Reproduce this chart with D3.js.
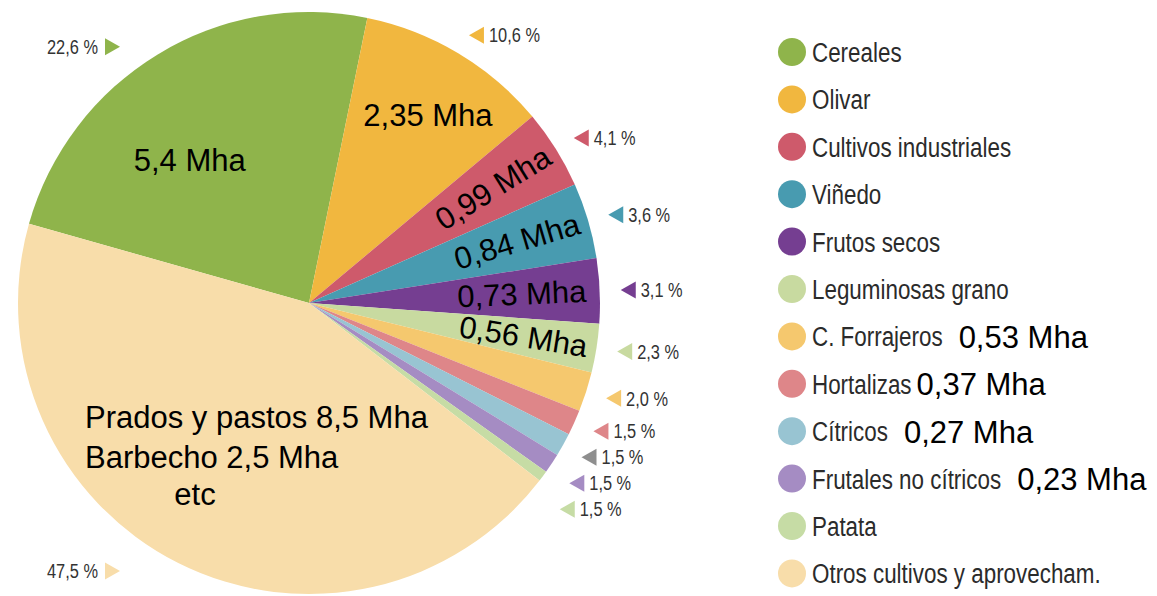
<!DOCTYPE html>
<html>
<head>
<meta charset="utf-8">
<script src="https://cdn.jsdelivr.net/npm/d3@7"></script>
<style>
  body { margin: 0; background: #fff; }
  .pct { font-family: 'Liberation Sans', Arial, sans-serif; font-size: 21px; fill: #333; }
  .legend-label { font-family: 'Liberation Sans', Arial, sans-serif; font-size: 28px; fill: #2b2b2b; }
  .note { font-family: 'Liberation Sans', Arial, sans-serif; font-size: 31px; fill: #000; }
</style>
</head>
<body>
<div id="chart"></div>
<script>
// Crop categories, clockwise from the top-left
const categories = [
  'Cereales', 'Olivar', 'Cultivos industriales', 'Viñedo', 'Frutos secos',
  'Leguminosas grano', 'C. Forrajeros', 'Hortalizas', 'Cítricos',
  'Frutales no cítricos', 'Patata', 'Otros cultivos y aprovecham.'
];
// Share of the pie as drawn (%)
const sliceShare = [23.8, 10.7, 4.4, 4.2, 3.6, 2.7, 2.2, 1.4, 1.3, 1.1, 0.6, 43.9];
// Printed percentage labels
const pctLabels = ['22,6 %', '10,6 %', '4,1 %', '3,6 %', '3,1 %', '2,3 %', '2,0 %', '1,5 %', '1,5 %', '1,5 %', '1,5 %', '47,5 %'];
// Hand-added surfaces (million ha)
const mhaLabels = ['5,4 Mha', '2,35 Mha', '0,99 Mha', '0,84 Mha', '0,73 Mha', '0,56 Mha', '0,53 Mha', '0,37 Mha', '0,27 Mha', '0,23 Mha', '', ''];
const otrosNote = ['Prados y pastos 8,5 Mha', 'Barbecho 2,5 Mha', 'etc'];

const palette = ['#8fb44b', '#f1b73f', '#ce5a6b', '#489bb0', '#753e91', '#c8daa0',
  '#f5c86e', '#de8689', '#98c4d2', '#a58cc3', '#c6dca5', '#f8ddaa'];
// marker triangle next to Cítricos is grey in the original
const markerColors = palette.map((c, i) => i === 8 ? '#8e8e8e' : c);

const width = 1157, height = 596;
const cx = 309, cy = 303, radius = 291;
const narrow = 0.78;       // squeeze to mimic the condensed face of the original
const legendNarrow = 0.8;
const rad = deg => deg * Math.PI / 180;

const svg = d3.select('#chart').append('svg')
  .attr('width', width)
  .attr('height', height);

const start = rad(-74.2);
const pie = d3.pie().sort(null).value(d => d)
  .startAngle(start).endAngle(start + 2 * Math.PI);
const arcs = pie(sliceShare);
const arc = d3.arc().innerRadius(0).outerRadius(radius);

const g = svg.append('g').attr('transform', `translate(${cx},${cy})`);

g.selectAll('path.slice')
  .data(arcs)
  .enter().append('path')
  .attr('class', 'slice')
  .attr('d', arc)
  .attr('fill', (d, i) => palette[i]);

// Percentage labels with little triangles
const mid = d => (d.startAngle + d.endAngle) / 2;
let prevY = -Infinity;
arcs.forEach((d, i) => {
  const a = mid(d);
  const left = (i === 0 || i === arcs.length - 1);
  if (left) {
    const y = cy - 300 * Math.cos(a);
    const tx = 105;
    svg.append('path')
      .attr('d', `M${tx},${y - 8.5}L${tx + 15},${y}L${tx},${y + 8.5}Z`)
      .attr('fill', markerColors[i]);
    svg.append('text').attr('class', 'pct')
      .attr('transform', `translate(${tx - 7},${y}) scale(${narrow},1)`)
      .attr('text-anchor', 'end')
      .attr('dominant-baseline', 'central')
      .text(pctLabels[i]);
  } else {
    let y = cy - 312 * Math.cos(a);
    if (y < prevY + 26) y = prevY + 26;
    prevY = y;
    const tx = cx + 312 * Math.sin(a);
    svg.append('path')
      .attr('d', `M${tx + 15},${y - 8.5}L${tx},${y}L${tx + 15},${y + 8.5}Z`)
      .attr('fill', markerColors[i]);
    svg.append('text').attr('class', 'pct')
      .attr('transform', `translate(${tx + 20},${y}) scale(${narrow},1)`)
      .attr('dominant-baseline', 'central')
      .text(pctLabels[i]);
  }
});

// Mha notes inside the larger slices
const inSlice = {
  0: { f: 0.4, r: 186, rotate: false },
  1: { f: 0.54, r: 222, rotate: false },
  2: { f: 0.5, r: 217, rotate: true },
  3: { f: 0.5, r: 217, rotate: true },
  4: { f: 0.5, r: 213, rotate: true },
  5: { f: 0.5, r: 217, rotate: true }
};
Object.keys(inSlice).forEach(k => {
  const i = +k, o = inSlice[k], d = arcs[i];
  const a = d.startAngle + o.f * (d.endAngle - d.startAngle);
  const x = o.r * Math.sin(a), y = -o.r * Math.cos(a);
  const rot = o.rotate ? a * 180 / Math.PI - 90 : 0;
  g.append('text').attr('class', 'note')
    .attr('transform', `translate(${x},${y}) rotate(${rot})`)
    .attr('text-anchor', 'middle')
    .attr('dominant-baseline', 'central')
    .text(mhaLabels[i]);
});

// Note on the big "Otros" slice
const noteG = g.append('g').attr('transform', 'translate(-224,125)');
noteG.selectAll('text')
  .data(otrosNote)
  .enter().append('text')
  .attr('class', 'note')
  .attr('x', (d, i) => i === 2 ? 110 : 0)
  .attr('y', (d, i) => i === 2 ? 77 : i * 40)
  .attr('text-anchor', (d, i) => i === 2 ? 'middle' : 'start')
  .text(d => d);

// Legend
const legendX = 792, legendY = 52, legendStep = 47.4;
const legend = svg.append('g');
const rows = legend.selectAll('g.row')
  .data(categories)
  .enter().append('g')
  .attr('class', 'row')
  .attr('transform', (d, i) => `translate(${legendX},${legendY + i * legendStep})`);

rows.append('circle')
  .attr('r', 14)
  .attr('fill', (d, i) => palette[i]);

rows.append('text')
  .attr('class', 'legend-label')
  .attr('transform', `translate(20,0) scale(${legendNarrow},1)`)
  .attr('dominant-baseline', 'central')
  .text(d => d);

rows.each(function (d, i) {
  if (i < 6 || !mhaLabels[i]) return;
  const row = d3.select(this);
  const w = row.select('text').node().getComputedTextLength() * legendNarrow;
  row.append('text')
    .attr('class', 'note')
    .attr('x', 20 + w + (i === 7 ? 5 : 16))
    .attr('y', 1)
    .attr('dominant-baseline', 'central')
    .text(mhaLabels[i]);
});
</script>
</body>
</html>
